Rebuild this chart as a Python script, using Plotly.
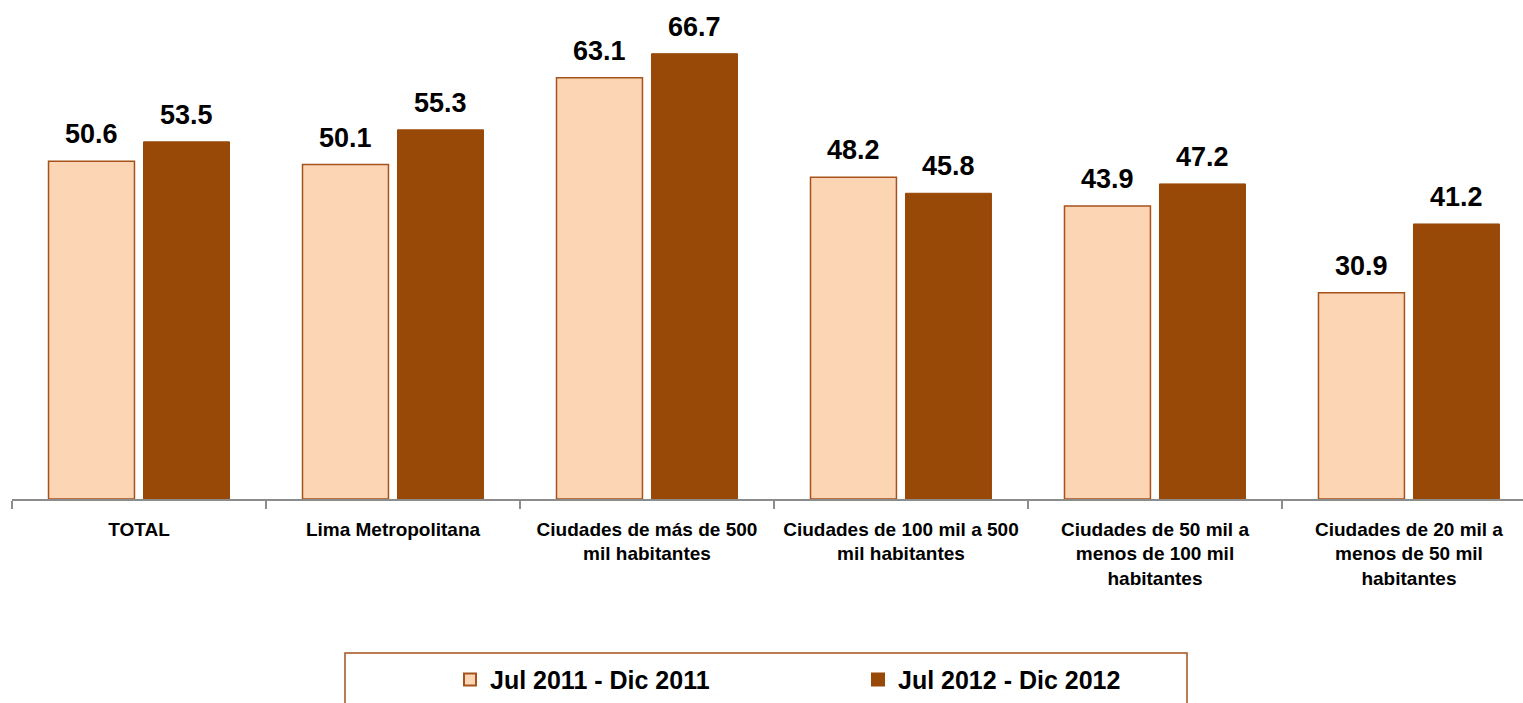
import plotly.graph_objects as go

categories = [
    "TOTAL",
    "Lima Metropolitana",
    "Ciudades de más de 500<br>mil habitantes",
    "Ciudades de 100 mil a 500<br>mil habitantes",
    "Ciudades de 50 mil a<br>menos de 100 mil<br>habitantes",
    "Ciudades de 20 mil a<br>menos de 50 mil<br>habitantes",
]
series_names = ["Jul 2011 - Dic 2011", "Jul 2012 - Dic 2012"]
values_2011 = [50.6, 50.1, 63.1, 48.2, 43.9, 30.9]
values_2012 = [53.5, 55.3, 66.7, 45.8, 47.2, 41.2]

FONT = "Liberation Sans, Arial, sans-serif"

fig = go.Figure()
fig.add_trace(go.Bar(
    x=categories, y=values_2011, name=series_names[0],
    marker=dict(color="#FCD5B5", line=dict(color="#A5521C", width=1.5)),
))
fig.add_trace(go.Bar(
    x=categories, y=values_2012, name=series_names[1],
    marker=dict(color="#984807", line=dict(color="#984807", width=1)),
))

# value labels above the bars
annotations = []
for vals, xshift in ((values_2011, -47.5), (values_2012, 47.5)):
    for cat, v in zip(categories, vals):
        annotations.append(dict(
            x=cat, y=v, xref="x", yref="y", text=f"{v:.1f}", showarrow=False,
            xanchor="center", yanchor="bottom", xshift=xshift, yshift=10,
            font=dict(family=FONT, size=27, color="black", weight="bold"),
        ))

fig.update_layout(
    width=1523, height=703,
    margin=dict(l=12, r=0, t=5, b=204, autoexpand=False),
    paper_bgcolor="white", plot_bgcolor="white",
    barmode="group", bargap=0.252, bargroupgap=0.095,
    font=dict(family=FONT, color="black"),
    showlegend=True,
    legend=dict(
        orientation="h", x=(450 - 12) / 1511, xanchor="left", y=-0.366, yanchor="middle",
        font=dict(family=FONT, size=25, color="black", weight="bold"),
        entrywidth=363, entrywidthmode="pixels",
        itemsizing="constant", bgcolor="rgba(0,0,0,0)",
    ),
    annotations=annotations,
    shapes=[dict(
        type="rect", xref="paper", yref="paper",
        x0=(345 - 12) / 1511, x1=(1187 - 12) / 1511,
        y0=(499 - 710) / 494, y1=(499 - 653) / 494,
        line=dict(color="#A5521C", width=1.5), fillcolor="rgba(0,0,0,0)",
    )],
)
fig.update_xaxes(
    type="category", range=[-0.5, 5.449],
    showline=True, linecolor="#8C8C8C", linewidth=1.5,
    ticks="outside", tickson="boundaries", ticklen=8, tickcolor="#8C8C8C", tickwidth=1.5,
    tickfont=dict(family=FONT, size=19, color="black", weight="bold"),
    tickangle=0, automargin=False,
    ticklabelstandoff=12,
    showgrid=False,
)
fig.update_yaxes(range=[0, 74], visible=False, showgrid=False, automargin=False)

fig.write_html(
    "out.html",
    config={"displayModeBar": False},
    post_script="document.body.style.margin='0px';document.body.style.overflow='hidden';",
)
